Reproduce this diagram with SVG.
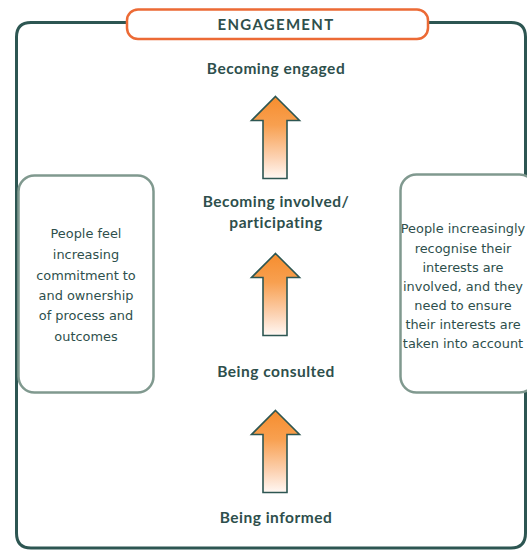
<svg xmlns="http://www.w3.org/2000/svg" width="527" height="550" viewBox="0 0 527 550">
  <style>
    .frame { fill: none; stroke: #2d5652; stroke-width: 3; }
    .title-pill { fill: #ffffff; stroke: #ec6a35; stroke-width: 2.5; }
    .title { font-family: Lato, "Liberation Sans", sans-serif; font-weight: bold; font-size: 15px; fill: #2e4f4c; text-anchor: middle; letter-spacing: 1.3px; }
    .stage { font-family: Lato, "Liberation Sans", sans-serif; font-weight: bold; font-size: 15.5px; fill: #2e4f4c; text-anchor: middle; letter-spacing: 0.5px; }
    .side { fill: #ffffff; stroke: #80998f; stroke-width: 2.5; }
    .note { font-family: "DejaVu Sans", "Open Sans", sans-serif; font-size: 12.9px; fill: #2e4f4c; text-anchor: middle; }
    .arrow { fill: url(#arrowFill); stroke: #2d5652; stroke-width: 1.6; stroke-linejoin: miter; }
  </style>
  <defs>
    <linearGradient id="arrowFill" x1="0" y1="0" x2="0" y2="1">
      <stop offset="0" stop-color="#f68d2e"/>
      <stop offset="0.35" stop-color="#f8a050"/>
      <stop offset="0.75" stop-color="#fcd3b4"/>
      <stop offset="1" stop-color="#fff8f4"/>
    </linearGradient>
    <path id="upArrow" d="M 0 0 L 24 24 L 11.5 24 L 11.5 82 L -12.5 82 L -12.5 24 L -24 24 Z"/>
  </defs>

  <rect width="527" height="550" fill="#ffffff"/>

  <!-- outer frame -->
  <g id="frame">
    <path class="frame" d="M 127 22.5 L 31 22.5 Q 16.5 22.5 16.5 37 L 16.5 533 Q 16.5 548 31 548 L 511 548 Q 525.5 548 525.5 533 L 525.5 37 Q 525.5 22.5 511 22.5 L 428 22.5"/>
  </g>

  <!-- title -->
  <g id="title">
    <rect class="title-pill" x="127" y="9.5" width="301" height="29.5" rx="11" ry="11"/>
    <text class="title" x="276" y="30">ENGAGEMENT</text>
  </g>

  <!-- stage labels -->
  <g id="stage-engaged">
    <text class="stage" x="276" y="74">Becoming engaged</text>
  </g>
  <g id="stage-involved">
    <text class="stage" x="276" y="207">Becoming involved/</text>
    <text class="stage" x="276" y="228">participating</text>
  </g>
  <g id="stage-consulted">
    <text class="stage" x="276" y="377">Being consulted</text>
  </g>
  <g id="stage-informed">
    <text class="stage" x="276" y="523">Being informed</text>
  </g>

  <!-- side notes -->
  <g id="note-left">
    <rect class="side" x="18.5" y="175.5" width="135" height="217" rx="16" ry="16"/>
    <text class="note" x="86" y="238">People feel</text>
    <text class="note" x="86" y="259">increasing</text>
    <text class="note" x="86" y="280">commitment to</text>
    <text class="note" x="86" y="300">and ownership</text>
    <text class="note" x="86" y="320">of process and</text>
    <text class="note" x="86" y="341">outcomes</text>
  </g>
  <g id="note-right">
    <rect class="side" x="400.5" y="174.5" width="135" height="218" rx="16" ry="16"/>
    <text class="note" x="463" y="233">People increasingly</text>
    <text class="note" x="463" y="253">recognise their</text>
    <text class="note" x="463" y="272">interests are</text>
    <text class="note" x="463" y="291">involved, and they</text>
    <text class="note" x="463" y="310">need to ensure</text>
    <text class="note" x="463" y="329">their interests are</text>
    <text class="note" x="463" y="348">taken into account</text>
  </g>

  <!-- upward arrows between stages -->
  <g id="connectors">
    <use href="#upArrow" class="arrow" x="275.5" y="96.5"/>
    <use href="#upArrow" class="arrow" x="275.5" y="253.5"/>
    <use href="#upArrow" class="arrow" x="275.5" y="410.5"/>
  </g>
</svg>
